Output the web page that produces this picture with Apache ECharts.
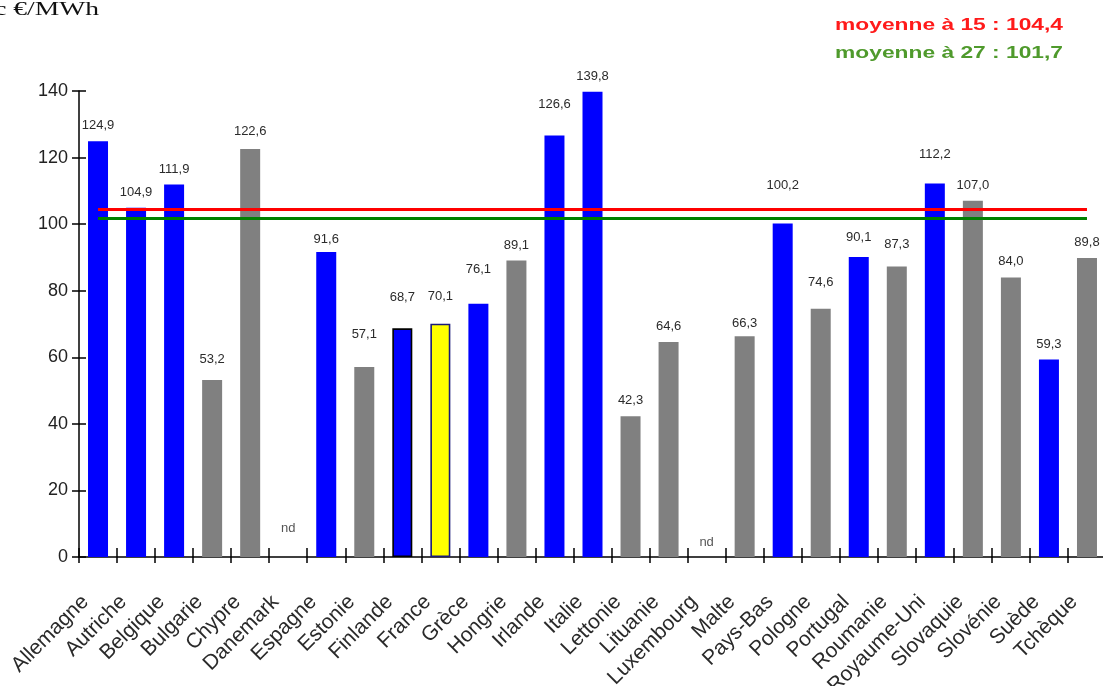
<!DOCTYPE html>
<html>
<head>
<meta charset="utf-8">
<script src="https://cdn.jsdelivr.net/npm/echarts@6/dist/echarts.min.js"></script>
<style>
  html, body { margin: 0; padding: 0; background: #fff; }
  #chart { width: 1103px; height: 686px; }
</style>
</head>
<body>
<div id="chart"></div>
<script>
// Prix de l'électricité par pays (c €/MWh) ; null = non disponible
const categories = ['Allemagne', 'Autriche', 'Belgique', 'Bulgarie', 'Chypre', 'Danemark', 'Espagne',
  'Estonie', 'Finlande', 'France', 'Grèce', 'Hongrie', 'Irlande', 'Italie', 'Lettonie', 'Lituanie',
  'Luxembourg', 'Malte', 'Pays-Bas', 'Pologne', 'Portugal', 'Roumanie', 'Royaume-Uni', 'Slovaquie',
  'Slovénie', 'Suède', 'Tchèque'];
const prices = [124.9, 104.9, 111.9, 53.2, 122.6, null, 91.6, 57.1, 68.7, 70.1, 76.1, 89.1, 126.6,
  139.8, 42.3, 64.6, null, 66.3, 100.2, 74.6, 90.1, 87.3, 112.2, 107.0, 84.0, 59.3, 89.8];
// ue15 = anciens États membres, nm = nouveaux membres
const groups = ['ue15', 'ue15', 'ue15', 'nm', 'nm', 'ue15', 'ue15', 'nm', 'ue15', 'fr', 'ue15', 'nm',
  'ue15', 'ue15', 'nm', 'nm', 'ue15', 'nm', 'ue15', 'nm', 'ue15', 'nm', 'ue15', 'nm', 'nm', 'ue15', 'nm'];
const meanNames = ['moyenne à 15', 'moyenne à 27'];
const meanValues = [104.4, 101.7];
const yTicks = [0, 20, 40, 60, 80, 100, 120, 140];

// Styles
const FONT = "'Liberation Sans', Arial, sans-serif";
const groupColor = { ue15: '#0000ff', nm: '#808080', fr: '#ffff00' };
const meanColors = ['#ff0000', '#008000'];
const meanTextColors = ['#ff1a1a', '#4f9a2c'];
const outlined = { Finlande: '#000000', France: '#1a1a7a' };
// extra height (px) of some value labels above their bar
const labelLift = { Bulgarie: 5, Chypre: 2, Espagne: -3, Estonie: 17, Finlande: 15, France: 12,
  'Grèce': 19, Irlande: 16, Malte: -3, 'Pays-Bas': 23, Pologne: 11, Portugal: 4, Roumanie: 6,
  'Royaume-Uni': 14 };
const ndDistance = { Danemark: 21, Luxembourg: 7 };

const fmt = v => v.toFixed(1).replace('.', ',');

const barData = prices.map((v, i) => {
  const name = categories[i];
  const item = {
    value: v === null ? '-' : v,
    itemStyle: { color: groupColor[groups[i]] }
  };
  if (outlined[name]) {
    item.itemStyle.borderColor = outlined[name];
    item.itemStyle.borderWidth = 1.6;
  }
  item.label = { distance: 9 + (labelLift[name] || 0) };
  return item;
});

const ndData = [];
prices.forEach((v, i) => {
  if (v === null) {
    ndData.push({ value: [categories[i], 0], label: { distance: ndDistance[categories[i]] || 8 } });
  }
});

const chart = echarts.init(document.getElementById('chart'), null, { renderer: 'canvas' });

const yMin = yTicks[0], yMax = yTicks[yTicks.length - 1], yStep = yTicks[1] - yTicks[0];

chart.setOption({
  animation: false,
  backgroundColor: '#ffffff',
  grid: { left: 79, right: -3, top: 91, bottom: 129, containLabel: false, outerBoundsMode: 'none' },
  xAxis: [
    {
      type: 'category',
      data: categories,
      boundaryGap: true,
      axisLine: { lineStyle: { color: '#000', width: 1.5 } },
      axisTick: { show: true, interval: 0, inside: false, length: 6, lineStyle: { color: '#000', width: 1.5 } },
      axisLabel: {
        interval: 0, rotate: 45, margin: 29, fontFamily: FONT, fontSize: 21, color: '#2a2a2a',
        padding: [0, 18, 0, 0]
      },
      splitLine: { show: false }
    },
    {
      type: 'category',
      data: categories,
      position: 'bottom',
      boundaryGap: true,
      axisLine: { show: false },
      axisTick: { show: true, interval: 0, inside: true, length: 9, lineStyle: { color: '#000', width: 1.5 } },
      axisLabel: { show: false },
      splitLine: { show: false }
    }
  ],
  yAxis: [
    {
      type: 'value',
      min: yMin, max: yMax, interval: yStep,
      axisLine: { show: true, lineStyle: { color: '#000', width: 1.5 } },
      axisTick: { show: true, inside: false, length: 7, lineStyle: { color: '#000', width: 1.5 } },
      axisLabel: { margin: 11, fontFamily: FONT, fontSize: 18, color: '#222' },
      splitLine: { show: false }
    },
    {
      type: 'value',
      position: 'left',
      min: yMin, max: yMax, interval: yStep,
      axisLine: { show: false },
      axisTick: { show: true, inside: true, length: 7, lineStyle: { color: '#000', width: 1.5 } },
      axisLabel: { show: false },
      splitLine: { show: false }
    }
  ],
  series: [
    {
      type: 'bar',
      xAxisIndex: 0,
      yAxisIndex: 0,
      data: barData,
      barWidth: 20,
      label: {
        show: true,
        position: 'top',
        fontFamily: FONT,
        fontSize: 13,
        color: '#2b2b2b',
        formatter: p => fmt(p.value)
      },
      markLine: {
        silent: true,
        symbol: ['none', 'none'],
        label: { show: false },
        data: meanValues.map((v, i) => [
          { coord: [categories[0], v], lineStyle: { color: meanColors[i], width: 3, type: 'solid' } },
          { coord: [categories[categories.length - 1], v] }
        ])
      }
    },
    {
      type: 'scatter',
      xAxisIndex: 0,
      yAxisIndex: 0,
      data: ndData,
      symbolSize: 2,
      itemStyle: { color: 'rgba(0,0,0,0)' },
      label: {
        show: true,
        position: 'top',
        fontFamily: FONT,
        fontSize: 13,
        color: '#2b2b2b',
        formatter: () => 'nd'
      }
    }
  ],
  graphic: [
    {
      type: 'text',
      x: 99, y: 10,
      scaleX: 1.45,
      style: {
        text: 'c €/MWh',
        font: "19px 'Liberation Serif', 'Times New Roman', serif",
        fill: '#111',
        textAlign: 'right',
        textVerticalAlign: 'middle'
      }
    },
    ...meanNames.map((n, i) => ({
      type: 'text',
      x: 1063, y: 25 + i * 28,
      scaleX: 1.34,
      style: {
        text: n + ' : ' + fmt(meanValues[i]),
        font: "bold 17px 'Liberation Sans', Arial, sans-serif",
        fill: meanTextColors[i],
        textAlign: 'right',
        textVerticalAlign: 'middle'
      }
    }))
  ]
});
</script>
</body>
</html>
